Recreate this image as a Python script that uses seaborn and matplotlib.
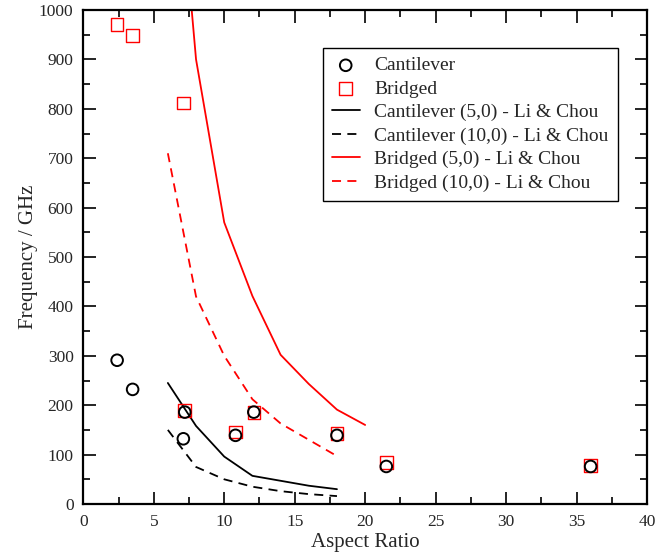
import matplotlib
matplotlib.use("Agg")
import matplotlib.pyplot as plt
import seaborn as sns
import pandas as pd

# ---- data ----
cant_x = [2.4, 3.5, 7.2, 7.1, 10.8, 12.1, 18.0, 21.5, 36.0]
cant_y = [291, 232, 186, 132, 139, 186, 139, 76, 76]

bridged_x = [2.4, 3.5, 7.1, 7.2, 10.8, 12.1, 18.0, 21.5, 36.0]
bridged_y = [971, 948, 812, 189, 146, 185, 143, 84, 78]

li_x = [6, 8, 10, 12, 14, 16, 18]
cant50_y = [245, 158, 96, 57, 47, 37, 30]
cant100_y = [150, 75, 50, 35, 26, 20, 16]
li_x_b5 = [6, 8, 10, 12, 14, 16, 18, 20]
bridged50_y = [1550, 900, 570, 421, 302, 243, 191, 160]
bridged100_y = [710, 420, 300, 212, 163, 130, 97]

x_ticks = [0, 5, 10, 15, 20, 25, 30, 35, 40]
y_ticks = [0, 100, 200, 300, 400, 500, 600, 700, 800, 900, 1000]

# ---- style ----
sns.set_style("ticks")
plt.rcParams["font.family"] = ["Liberation Serif", "DejaVu Serif"]

fig = plt.figure(figsize=(6.57, 5.56), dpi=100)
ax = fig.add_axes([83.3 / 657, (556 - 504) / 556, (647 - 83.3) / 657, (504 - 10) / 556])

dash = (0, (5, 3.5))

sns.lineplot(x=li_x, y=cant50_y, ax=ax, color="black", linewidth=1.3,
             label="Cantilever (5,0) - Li & Chou", sort=False)
sns.lineplot(x=li_x, y=cant100_y, ax=ax, color="black", linewidth=1.3,
             linestyle=dash, label="Cantilever (10,0) - Li & Chou", sort=False)
sns.lineplot(x=li_x_b5, y=bridged50_y, ax=ax, color="red", linewidth=1.3,
             label="Bridged (5,0) - Li & Chou", sort=False)
sns.lineplot(x=li_x, y=bridged100_y, ax=ax, color="red", linewidth=1.3,
             linestyle=dash, label="Bridged (10,0) - Li & Chou", sort=False)

sns.scatterplot(x=bridged_x, y=bridged_y, ax=ax, marker="s", s=82,
                facecolor="none", edgecolor="red", linewidth=1.0,
                label="Bridged", zorder=3)
sns.scatterplot(x=cant_x, y=cant_y, ax=ax, marker="o", s=70,
                facecolor="none", edgecolor="black", linewidth=1.4,
                label="Cantilever", zorder=4)

ax.set_xlim(0, 40)
ax.set_ylim(0, 1000)
ax.set_xticks(x_ticks)
ax.set_yticks(y_ticks)
ax.set_xticks([2.5 + 5 * i for i in range(8)], minor=True)
ax.set_yticks([50 + 100 * i for i in range(10)], minor=True)
ax.tick_params(which="both", direction="in", top=True, right=True,
               labelsize=12.5, width=1.2, color="black")
ax.tick_params(which="major", length=9, pad=7)
ax.tick_params(which="minor", length=5)
for s in ax.spines.values():
    s.set_linewidth(1.6)
    s.set_color("black")

ax.set_xlabel("Aspect Ratio", fontsize=15, labelpad=2)
ax.set_ylabel("Frequency / GHz", fontsize=15, labelpad=1)

handles, labels = ax.get_legend_handles_labels()
order = ["Cantilever", "Bridged", "Cantilever (5,0) - Li & Chou",
         "Cantilever (10,0) - Li & Chou", "Bridged (5,0) - Li & Chou",
         "Bridged (10,0) - Li & Chou"]
hmap = dict(zip(labels, handles))
leg = ax.legend([hmap[l] for l in order], order, loc="upper left",
                bbox_to_anchor=(0.425, 0.923), borderaxespad=0, fontsize=14,
                frameon=True, fancybox=False, edgecolor="black", framealpha=1,
                handlelength=1.45, handletextpad=0.75, labelspacing=0.3,
                borderpad=0.45, markerscale=1.0)
leg.get_frame().set_linewidth(1.0)

fig.savefig("out.png", dpi=100)
